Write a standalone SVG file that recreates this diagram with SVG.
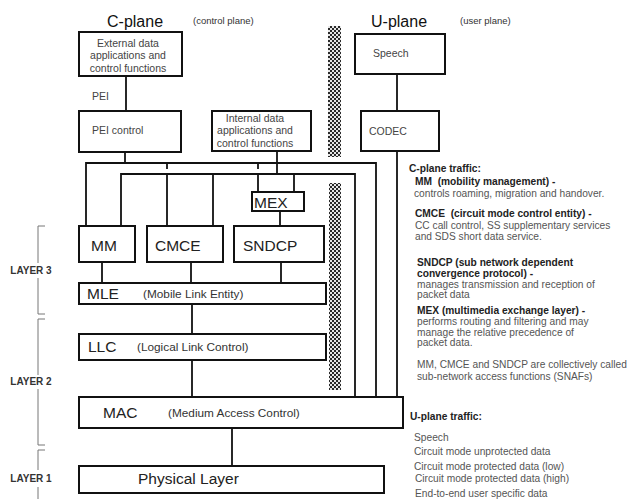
<svg xmlns="http://www.w3.org/2000/svg" width="632" height="499" viewBox="0 0 632 499">
<defs>
<pattern id="hatch" width="4" height="4" patternUnits="userSpaceOnUse">
<rect width="4" height="4" fill="#e6e6e6"/>
<rect width="2" height="2" fill="#2a2a2a"/>
<rect x="2" y="2" width="2" height="2" fill="#2a2a2a"/>
</pattern>
</defs>
<style>
text{font-family:"Liberation Sans",Arial,sans-serif}
.box{fill:#fff;stroke:#111;stroke-width:2}
.conn{stroke:#111;stroke-width:1.8;fill:none}
.brk{stroke:#777;stroke-width:1;fill:none}
.title{font-size:16px;fill:#111}
.sub{font-size:9.5px;fill:#333}
.small{font-size:10.5px;fill:#444}
.big{font-size:15.5px;fill:#222}
.paren{font-size:11.8px;fill:#333}
.layer{font-size:10px;font-weight:bold;fill:#333}
.rb{font-size:10.2px;font-weight:bold;fill:#222}
.rn{font-size:10.2px;fill:#555}
.bar{fill:url(#hatch)}
</style>

<g id="titles">
<text class="title" x="107" y="27">C-plane</text>
<text class="sub" x="193" y="24">(control plane)</text>
<text class="title" x="371" y="27">U-plane</text>
<text class="sub" x="460" y="24">(user plane)</text>
</g>

<g id="bars">
<rect class="bar" x="328" y="26" width="13" height="131"/>
<rect class="bar" x="329" y="183" width="12" height="207"/>
</g>

<g id="connectors">
<line class="conn" x1="126" y1="76" x2="126" y2="111"/>
<line class="conn" x1="397" y1="74" x2="397" y2="111"/>
<line class="conn" x1="125" y1="152" x2="125" y2="163"/>
<line class="conn" x1="277" y1="151" x2="277" y2="174"/>
<polyline class="conn" points="86,226 86,163 376,163 376,397"/>
<polyline class="conn" points="121,226 121,174 355,174 355,397"/>
<line class="conn" x1="397" y1="151" x2="397" y2="397"/>
<line class="conn" x1="167" y1="163" x2="167" y2="169"/>
<line class="conn" x1="167" y1="174" x2="167" y2="226"/>
<line class="conn" x1="213" y1="174" x2="213" y2="226"/>
<line class="conn" x1="258" y1="163" x2="258" y2="169"/>
<line class="conn" x1="258" y1="174" x2="258" y2="192"/>
<line class="conn" x1="294" y1="174" x2="294" y2="192"/>
<line class="conn" x1="280" y1="211" x2="280" y2="226"/>
<line class="conn" x1="102" y1="262" x2="102" y2="283"/>
<line class="conn" x1="191" y1="262" x2="191" y2="283"/>
<line class="conn" x1="281" y1="262" x2="281" y2="283"/>
<line class="conn" x1="192" y1="304" x2="192" y2="334"/>
<line class="conn" x1="192" y1="360" x2="192" y2="397"/>
<line class="conn" x1="232" y1="428" x2="232" y2="466"/>
</g>

<g id="ext">
<rect class="box" x="79" y="32" width="103" height="44"/>
<text class="small" x="128" y="46.5" text-anchor="middle">External data</text>
<text class="small" x="128" y="59" text-anchor="middle">applications and</text>
<text class="small" x="128" y="71.5" text-anchor="middle">control functions</text>
</g>
<text id="pei" class="small" x="92" y="100">PEI</text>
<g id="peicontrol">
<rect class="box" x="79" y="111" width="102" height="41"/>
<text class="small" x="92" y="134">PEI control</text>
</g>
<g id="internal">
<rect class="box" x="212" y="111" width="99" height="40"/>
<text class="small" x="255" y="122" text-anchor="middle">Internal data</text>
<text class="small" x="255" y="134" text-anchor="middle">applications and</text>
<text class="small" x="255" y="147" text-anchor="middle">control functions</text>
</g>
<g id="speech">
<rect class="box" x="355" y="34" width="90" height="40"/>
<text class="small" x="373" y="57">Speech</text>
</g>
<g id="codec">
<rect class="box" x="361" y="111" width="78" height="40"/>
<text class="small" x="369" y="135">CODEC</text>
</g>
<g id="mex">
<rect class="box" x="252" y="192" width="52" height="19"/>
<text class="big" x="254" y="208">MEX</text>
</g>
<g id="mm">
<rect class="box" x="79" y="226" width="56" height="36"/>
<text class="big" x="91" y="251">MM</text>
</g>
<g id="cmce">
<rect class="box" x="147" y="226" width="76" height="36"/>
<text class="big" x="155" y="251">CMCE</text>
</g>
<g id="sndcp">
<rect class="box" x="234" y="226" width="90" height="36"/>
<text class="big" x="243" y="251">SNDCP</text>
</g>
<g id="mle">
<rect class="box" x="79" y="283" width="247" height="21"/>
<text class="big" x="87" y="299">MLE</text>
<text class="paren" x="143" y="298">(Mobile Link Entity)</text>
</g>
<g id="llc">
<rect class="box" x="79" y="334" width="247" height="26"/>
<text class="big" x="88" y="352">LLC</text>
<text class="paren" x="137" y="351">(Logical Link Control)</text>
</g>
<g id="mac">
<rect class="box" x="79" y="397" width="324" height="31"/>
<text class="big" x="103" y="418">MAC</text>
<text class="paren" x="168" y="417">(Medium Access Control)</text>
</g>
<g id="phy">
<rect class="box" x="79" y="466" width="305" height="27"/>
<text class="big" x="138" y="484">Physical Layer</text>
</g>

<g id="layers">
<polyline class="brk" points="45,226 38,226 38,263"/>
<polyline class="brk" points="38,278 38,314 45,314"/>
<text class="layer" x="31" y="274" text-anchor="middle">LAYER 3</text>
<polyline class="brk" points="45,319 38,319 38,375"/>
<polyline class="brk" points="38,389 38,445 45,445"/>
<text class="layer" x="31" y="385" text-anchor="middle">LAYER 2</text>
<polyline class="brk" points="45,450 38,450 38,470"/>
<line class="brk" x1="38" y1="487" x2="38" y2="499"/>
<text class="layer" x="31" y="482" text-anchor="middle">LAYER 1</text>
</g>

<g id="legend">
<text class="rb" x="409" y="172">C-plane traffic:</text>
<text class="rb" x="415" y="185" xml:space="preserve">MM  (mobility management) -</text>
<text class="rn" x="414" y="197">controls roaming, migration and handover.</text>
<text class="rb" x="415" y="217" xml:space="preserve">CMCE  (circuit mode control entity) -</text>
<text class="rn" x="415" y="229">CC call control, SS supplementary services</text>
<text class="rn" x="415" y="240">and SDS short data service.</text>
<text class="rb" x="417" y="266">SNDCP (sub network dependent</text>
<text class="rb" x="417" y="277">convergence protocol) -</text>
<text class="rn" x="417" y="288">manages transmission and reception of</text>
<text class="rn" x="417" y="298">packet data</text>
<text class="rb" x="417" y="314">MEX (multimedia exchange layer) -</text>
<text class="rn" x="417" y="325">performs routing and filtering and may</text>
<text class="rn" x="417" y="336">manage the relative precedence of</text>
<text class="rn" x="417" y="346">packet data.</text>
<text class="rn" x="417" y="368">MM, CMCE and SNDCP are collectively called</text>
<text class="rn" x="417" y="380">sub-network access functions (SNAFs)</text>
<text class="rb" x="410" y="420">U-plane traffic:</text>
<text class="rn" x="414" y="441">Speech</text>
<text class="rn" x="414" y="455">Circuit mode unprotected data</text>
<text class="rn" x="414" y="470">Circuit mode protected data (low)</text>
<text class="rn" x="415" y="482">Circuit mode protected data (high)</text>
<text class="rn" x="415" y="497">End-to-end user specific data</text>
</g>
</svg>
